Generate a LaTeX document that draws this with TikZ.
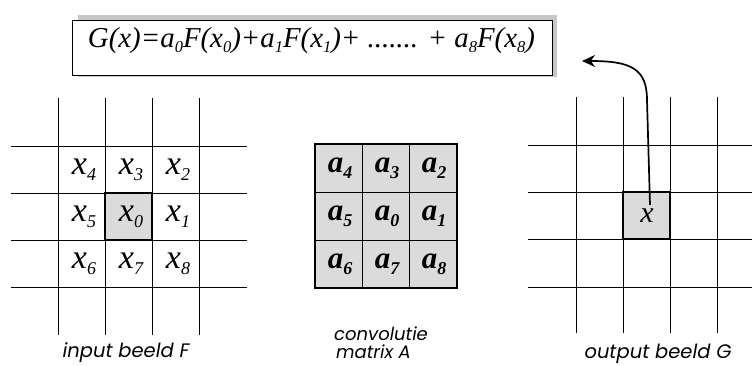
\documentclass[tikz,border=0pt]{standalone}
\usepackage{fontspec}
\usepackage{graphicx}
\setmainfont{Liberation Serif}
\newfontfamily\labelfont{Poppins}
\usetikzlibrary{arrows.meta}
\newcommand\cs[1]{\raisebox{-6pt}{\fontsize{18}{18}\selectfont #1}}
\newcommand\fs[1]{\raisebox{-4pt}{\fontsize{16}{16}\selectfont #1}}
\newcommand\capw[2]{\resizebox{#1}{!}{#2}}
\begin{document}
\begin{tikzpicture}[x=1pt,y=-1pt,
  gridline/.style={line width=0.9pt},
  boldbox/.style={line width=2pt},
  cellx/.style={font=\fontsize{34}{36}\selectfont\itshape, inner sep=0pt},
  cella/.style={font=\fontsize{31}{33}\selectfont\bfseries\itshape, inner sep=0pt},
  caption/.style={font=\labelfont\itshape\fontsize{19.5}{22}\selectfont, align=left, inner sep=0pt},
  captionsm/.style={font=\labelfont\itshape\fontsize{18}{20}\selectfont, align=left, inner sep=0pt}]
\useasboundingbox (0,0) rectangle (752,366);

% formula box
\fill[gray!45] (78,15) rectangle (557,77);
\draw[fill=white, line width=0.9pt] (72,20) rectangle (552,75);
\node[anchor=base, inner sep=0pt, font=\fontsize{28}{30}\selectfont\itshape] (formula) at (311.5,48)
  {\capw{447pt}{G(x)=a\fs{0}F(x\fs{0})+a\fs{1}F(x\fs{1})+ ....... + a\fs{8}F(x\fs{8})}};

% left grid
\fill[gray!28] (105,193) rectangle (152,240);
\foreach \x in {58,105,152,199} \draw[gridline] (\x,98) -- (\x,335);
\foreach \y in {146,193,240,287} \draw[gridline] (11,\y) -- (247,\y);
\draw[boldbox] (105,193) rectangle (152,240);
\node[cellx] (x4) at (84,170) {x\cs{4}};
\node[cellx] (x3) at (131,170) {x\cs{3}};
\node[cellx] (x2) at (178,170) {x\cs{2}};
\node[cellx] (x5) at (84,217) {x\cs{5}};
\node[cellx] (x0) at (131,217) {x\cs{0}};
\node[cellx] (x1) at (178,217) {x\cs{1}};
\node[cellx] (x6) at (84,264) {x\cs{6}};
\node[cellx] (x7) at (131,264) {x\cs{7}};
\node[cellx] (x8) at (178,264) {x\cs{8}};
\node[caption, anchor=base] (capF) at (126,357) {input beeld F};

% matrix
\fill[gray!28] (315,144) rectangle (457,288);
\foreach \x in {362.3,409.7} \draw[gridline] (\x,144) -- (\x,288);
\foreach \y in {192,240} \draw[gridline] (315,\y) -- (457,\y);
\draw[boldbox] (315,144) rectangle (457,288);
\node[cella] (a4) at (340,168) {a\cs{4}};
\node[cella] (a3) at (387,168) {a\cs{3}};
\node[cella] (a2) at (434,168) {a\cs{2}};
\node[cella] (a5) at (340,216) {a\cs{5}};
\node[cella] (a0) at (387,216) {a\cs{0}};
\node[cella] (a1) at (434,216) {a\cs{1}};
\node[cella] (a6) at (340,264) {a\cs{6}};
\node[cella] (a7) at (387,264) {a\cs{7}};
\node[cella] (a8) at (434,264) {a\cs{8}};
\node[captionsm, anchor=base west] (capA) at (334,340) {convolutie};
\node[captionsm, anchor=base west] (capA2) at (336,358) {matrix A};

% right grid
\fill[gray!28] (623,192) rectangle (670,239);
\foreach \x in {576,623,670,717} \draw[gridline] (\x,97) -- (\x,333);
\foreach \y in {145,192,239,287} \draw[gridline] (528,\y) -- (752,\y);
\draw[boldbox] (623,192) rectangle (670,239);
\node[cellx, font=\fontsize{30}{32}\selectfont\itshape] (xout) at (647,216) {x};
\node[caption, anchor=base] (capG) at (658,358) {output beeld G};

% arrow
\coordinate (tip) at (582,61);
\draw[line width=1.7pt, -{Stealth[length=13pt,width=12pt]}]
  ([xshift=3pt,yshift=4pt]xout.north) -- (647,100) .. controls (647,68) and (630,61) .. (tip);
\end{tikzpicture}
\end{document}
